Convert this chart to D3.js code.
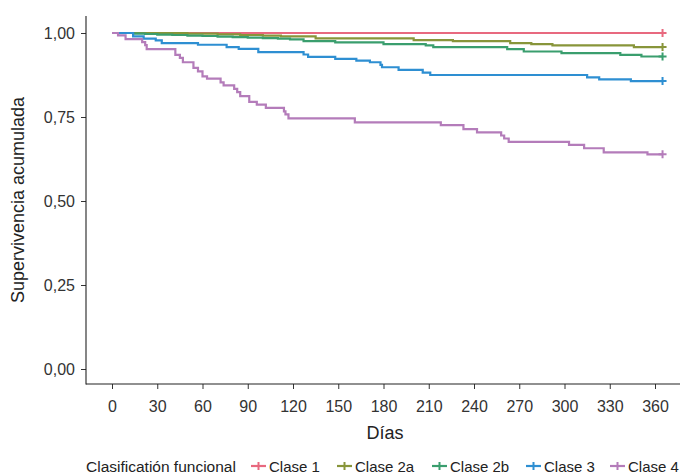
<!DOCTYPE html>
<html><head><meta charset="utf-8">
<script src="https://cdn.jsdelivr.net/npm/d3@7"></script>
<style>
body{margin:0;background:#fff;}
text{font-family:"Liberation Sans Narrow","Arial Narrow","Liberation Sans",Arial,sans-serif;}
</style></head>
<body><svg id="c" width="680" height="476"></svg>
<script>
const classes = ["Clase 1","Clase 2a","Clase 2b","Clase 3","Clase 4"];
const colors = ["#E8697F","#88953A","#3A9E6E","#2E8FD2","#B47CBA"];
const endDay = 365;
const t1 = [0];
const s1 = [1];
const t2a = [0,50,70,85,100,112,135,200,226,264,278,292,346];
const s2a = [1,0.998,0.996,0.994,0.992,0.990,0.984,0.979,0.976,0.970,0.967,0.963,0.958];
const t2b = [0,14,22,30,40,50,60,70,80,90,100,110,118,127,148,180,208,213,262,273,298,337,351];
const s2b = [1,0.998,0.997,0.995,0.994,0.992,0.991,0.989,0.988,0.986,0.985,0.983,0.981,0.976,0.972,0.967,0.963,0.958,0.952,0.945,0.940,0.935,0.930];
const t3 = [0,14,21,29,33,57,76,84,97,127,130,148,162,171,178,179,190,206,211,315,323,344];
const s3 = [1,0.990,0.983,0.978,0.970,0.965,0.958,0.953,0.943,0.936,0.929,0.923,0.918,0.913,0.905,0.898,0.890,0.882,0.875,0.868,0.862,0.857];
const t4 = [0,4,9,20,22,23,42,45,47,54,57,60,63,72,74,81,83,85,91,96,102,114,115,117,161,218,233,242,258,260,263,303,313,326,355];
const s4 = [1,0.993,0.982,0.973,0.964,0.952,0.935,0.926,0.913,0.896,0.886,0.871,0.864,0.853,0.844,0.834,0.824,0.812,0.795,0.787,0.777,0.767,0.758,0.746,0.734,0.726,0.714,0.704,0.695,0.686,0.676,0.667,0.657,0.645,0.639];
const xTicks = [0,30,60,90,120,150,180,210,240,270,300,330,360];
const yTicks = [0,0.25,0.5,0.75,1];
const xTitle = "Días";
const yTitle = "Supervivencia acumulada";
const legendTitle = "Clasificatión funcional";

const series = [[t1,s1],[t2a,s2a],[t2b,s2b],[t3,s3],[t4,s4]].map((d,i)=>({
  name: classes[i], color: colors[i],
  pts: d[0].map((t,j)=>[t,d[1][j]]).concat([[endDay,d[1][d[1].length-1]]])
}));

const svg = d3.select("#c");
const x = d3.scaleLinear().domain([0,360]).range([112,655]);
const y = d3.scaleLinear().domain([0,1]).range([369,33]);
const pL = 86, pB = 384, pT = 16, pR = 680;
const fmt = v => d3.format(".2f")(v).replace(".",",");

// axes
const gy = svg.append("g").attr("transform",`translate(${pL},0)`)
  .call(d3.axisLeft(y).tickValues(yTicks).tickFormat(fmt).tickSize(5).tickPadding(6));
const gx = svg.append("g").attr("transform",`translate(0,${pB})`)
  .call(d3.axisBottom(x).tickValues(xTicks).tickSize(5).tickPadding(12));
[gx,gy].forEach(g=>{
  g.select(".domain").remove();
  g.selectAll("line").attr("stroke","#333").attr("stroke-width",1);
  g.selectAll("text").attr("fill","#333").style("font-size","16px");
});
svg.append("line").attr("x1",pL).attr("x2",pL).attr("y1",pT).attr("y2",pB+0.5).attr("stroke","#222").attr("stroke-width",1.1);
svg.append("line").attr("x1",pL).attr("x2",pR).attr("y1",pB).attr("y2",pB).attr("stroke","#222").attr("stroke-width",1.1);

svg.append("text").attr("x",385).attr("y",439).attr("text-anchor","middle")
  .attr("fill","#222").style("font-size","18px").text(xTitle);
svg.append("text").attr("transform","translate(24,200) rotate(-90)").attr("text-anchor","middle")
  .attr("fill","#222").style("font-size","18px").text(yTitle);

// curves
const line = d3.line().x(d=>x(d[0])).y(d=>y(d[1])).curve(d3.curveStepAfter);
const plus = (g,cx,cy,color)=>{
  g.append("path").attr("d",`M${cx-4},${cy}H${cx+4}M${cx},${cy-4}V${cy+4}`)
   .attr("stroke",color).attr("stroke-width",2).attr("fill","none");
};
series.forEach(s=>{
  svg.append("path").datum(s.pts).attr("d",line).attr("fill","none")
    .attr("stroke",s.color).attr("stroke-width",2.2);
  const last = s.pts[s.pts.length-1];
  plus(svg, x(last[0]), y(last[1]), s.color);
});

// legend
const ly = 466;
svg.append("text").attr("x",86).attr("y",ly+5.5).attr("fill","#222").style("font-size","15.5px").text(legendTitle);
const keyX = [251,337,432,526,610];
series.forEach((s,i)=>{
  const kx = keyX[i];
  svg.append("line").attr("x1",kx).attr("x2",kx+15).attr("y1",ly).attr("y2",ly).attr("stroke",s.color).attr("stroke-width",2.2);
  plus(svg, kx+7.5, ly, s.color);
  svg.append("text").attr("x",kx+18).attr("y",ly+5.5).attr("fill","#222").style("font-size","15px").text(s.name);
});
</script></body></html>
